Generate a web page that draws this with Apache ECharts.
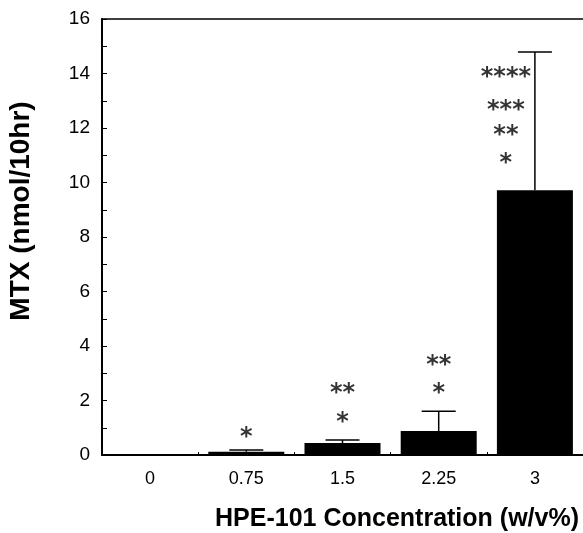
<!DOCTYPE html>
<html lang="en">
<head>
    <meta charset="UTF-8">
    <title>MTX</title>
    <script src="https://cdn.jsdelivr.net/npm/echarts@6/dist/echarts.min.js"></script>
    <style>
        html, body { margin: 0; padding: 0; background: #fff; }
        #main { width: 583px; height: 533px; }
    </style>
</head>
<body>
    <div id="main"></div>
    <script type="text/javascript">
        // data
        var concentrations = ['0', '0.75', '1.5', '2.25', '3'];
        var mtxMean = [0, 0.12, 0.44, 0.88, 9.72];
        var mtxErr = [0, 0.06, 0.11, 0.73, 5.07];
        var yTicks = [0, 2, 4, 6, 8, 10, 12, 14, 16];
        // significance marks: [category index, y position, text]
        var stars = [
            [1, 0.84, '*'],
            [2, 1.39, '*'], [2, 2.46, '**'],
            [3, 2.46, '*'], [3, 3.49, '**'],
            [4, 10.9, '*'], [4, 11.93, '**'], [4, 12.84, '***'], [4, 14.05, '****']
        ];

        var myEcharts = echarts.init(document.getElementById('main'));
        var fontFam = '"Liberation Sans", Arial, sans-serif';

        var starData = stars.map(function (s) {
            var item = { value: [s[0], s[1]], name: s[2] };
            // the stars over the last bar sit left of its error bar
            if (s[0] === 4) item.label = { offset: [-29, 6] };
            return item;
        });

        var option = {
            animation: false,
            grid: { left: 102, right: 0, top: 19, bottom: 78, outerBoundsMode: 'none' },
            xAxis: [{
                type: 'category',
                data: concentrations,
                name: 'HPE-101 Concentration (w/v%)',
                nameLocation: 'middle',
                nameGap: 52,
                nameTextStyle: {
                    fontFamily: fontFam, fontWeight: 'bold', fontSize: 25, color: '#000',
                    verticalAlign: 'top', padding: [0, 0, 0, 109]
                },
                axisLine: { lineStyle: { color: '#000', width: 2 } },
                axisTick: { show: true, inside: true, length: 3, lineStyle: { color: '#000' } },
                axisLabel: { color: '#000', fontFamily: fontFam, fontSize: 18, margin: 15 }
            }, {
                // frame line along the top
                type: 'category',
                data: concentrations,
                position: 'top',
                axisLine: { lineStyle: { color: '#000', width: 1.5 } },
                axisTick: { show: false },
                axisLabel: { show: false }
            }],
            yAxis: {
                type: 'value',
                min: yTicks[0],
                max: yTicks[yTicks.length - 1],
                interval: 2,
                name: 'MTX (nmol/10hr)',
                nameLocation: 'middle',
                nameGap: 67,
                nameTextStyle: {
                    fontFamily: fontFam, fontWeight: 'bold', fontSize: 28, color: '#000',
                    padding: [0, 0, 0, 52]
                },
                axisLine: { show: true, lineStyle: { color: '#000', width: 2 } },
                axisTick: { show: true, inside: true, length: 5, lineStyle: { color: '#000' } },
                minorTick: { show: true, splitNumber: 2, length: 5, lineStyle: { color: '#000' } },
                splitLine: { show: false },
                axisLabel: { color: '#000', fontFamily: fontFam, fontSize: 19, margin: 12 }
            },
            series: [{
                name: 'MTX',
                type: 'bar',
                data: mtxMean,
                barWidth: 76,
                itemStyle: { color: '#000' }
            }, {
                // upward error bars with a cap
                type: 'custom',
                data: mtxMean.map(function (v, i) { return [i, v, v + mtxErr[i]]; }),
                renderItem: function (params, api) {
                    var lo = api.coord([api.value(0), api.value(1)]);
                    var hi = api.coord([api.value(0), api.value(2)]);
                    var half = 17;
                    return {
                        type: 'group',
                        children: [{
                            type: 'line',
                            shape: { x1: hi[0], y1: lo[1], x2: hi[0], y2: hi[1] },
                            style: { stroke: '#000', lineWidth: 1.5 }
                        }, {
                            type: 'line',
                            shape: { x1: hi[0] - half, y1: hi[1], x2: hi[0] + half, y2: hi[1] },
                            style: { stroke: '#000', lineWidth: 1.5 }
                        }]
                    };
                },
                z: 3
            }, {
                type: 'scatter',
                data: starData,
                symbolSize: 0,
                label: {
                    show: true,
                    position: 'inside',
                    offset: [0, 6],
                    formatter: function (p) { return p.name; },
                    color: '#000',
                    fontFamily: '"DejaVu Sans", sans-serif',
                    fontWeight: 'bold',
                    fontSize: 24
                },
                z: 4
            }]
        };
        myEcharts.setOption(option);
    </script>
</body>
</html>
